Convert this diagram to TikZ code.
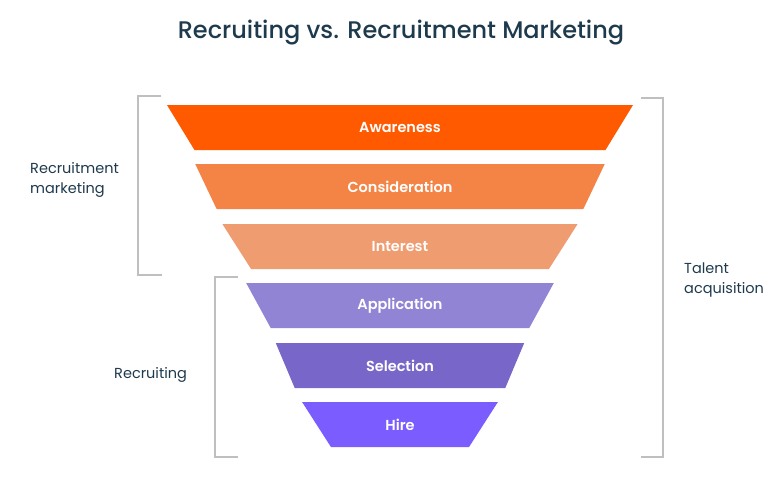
\documentclass[tikz,border=0pt]{standalone}
\usepackage{fontspec}
\setmainfont{Poppins}
\newfontfamily\stagefont{Poppins SemiBold}
\newfontfamily\titlefont{Poppins Medium}
\usepackage{tikz}
\usetikzlibrary{shapes.geometric,positioning}

\definecolor{ink}{HTML}{1E3A4D}
\definecolor{bracketgray}{HTML}{BFBFBF}
\definecolor{aware}{HTML}{FF5A00}
\definecolor{consid}{HTML}{F38446}
\definecolor{interest}{HTML}{EE9C70}
\definecolor{applic}{HTML}{9184D4}
\definecolor{select}{HTML}{7867C8}
\definecolor{hire}{HTML}{7B5CFF}

\tikzset{
 stage/.style={trapezium, shape border rotate=180, trapezium angle=62,
  trapezium stretches=true, minimum height=45pt, inner sep=0pt, outer sep=0pt,
  text=white, font=\stagefont\fontsize{14.5}{16}\selectfont},
 side/.style={text=ink, align=left, inner sep=0pt, font=\fontsize{14.5}{20}\selectfont},
 brace/.style={draw=bracketgray, line width=2pt}
}

\begin{document}
\begin{tikzpicture}[x=1pt,y=-1pt]
\useasboundingbox (0,0) rectangle (772,484);
% title
\node[text=ink, font=\titlefont\fontsize{24}{28}\selectfont] (title) at (401,33) {Recruiting vs. Recruitment Marketing};
% funnel
\node[stage, fill=aware, minimum width=467pt, anchor=north] (awareness) at (400,105) {Awareness};
\node[stage, fill=consid, minimum width=410pt, below=14pt of awareness] (consideration) {Consideration};
\node[stage, fill=interest, minimum width=356pt, below=15pt of consideration] (interest) {Interest};
\node[stage, fill=applic, minimum width=308pt, below=14pt of interest] (application) {Application};
\node[stage, fill=select, minimum width=250pt, below=15pt of application] (selection) {Selection};
\node[stage, fill=hire, minimum width=196pt, below=14pt of selection] (hire) {Hire};
% labels
\node[side, anchor=west] (marketing) at (30,180) {Recruitment\\marketing};
\node[side, anchor=base west] (recruiting) at (114,378) {Recruiting};
\node[side, anchor=west] (talent) at (684,280) {Talent\\acquisition};
% brackets
\draw[brace] (161,96) -- (138,96) -- (138,275) -- (162,275);
\draw[brace] (238,277) -- (215,277) -- (215,457) -- (238,457);
\draw[brace] (641,98) -- (663,98) -- (663,457) -- (641,457);
\end{tikzpicture}
\end{document}
